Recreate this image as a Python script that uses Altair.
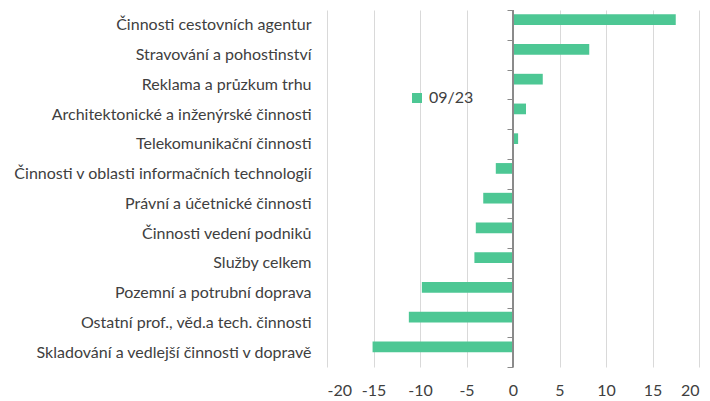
import json
import altair as alt
import pandas as pd

categories = [
    "Činnosti cestovních agentur",
    "Stravování a pohostinství",
    "Reklama a průzkum trhu",
    "Architektonické a inženýrské činnosti",
    "Telekomunikační činnosti",
    "Činnosti v oblasti informačních technologií",
    "Právní a účetnické činnosti",
    "Činnosti vedení podniků",
    "Služby celkem",
    "Pozemní a potrubní doprava",
    "Ostatní prof., věd.a tech. činnosti ",
    "Skladování a vedlejší činnosti v dopravě",
]
values = [17.5, 8.2, 3.2, 1.4, 0.55, -1.85, -3.2, -4.0, -4.15, -9.8, -11.2, -15.1]
series_name = "09/23"
x_ticks = [-20, -15, -10, -5, 0, 5, 10, 15, 20]

GREEN = "#4DC794"
TEXT = "#404040"
GRAY = "#8a8a8a"
FONT = "Lato"
W, H = 372, 357

n = len(categories)
df = pd.DataFrame({
    "cat": categories,
    "value": values,
    "idx": list(range(n)),
    "series": [series_name] * n,
})
# bar occupies the upper half of each category slot (second, empty series in original)
df["y0"] = df["idx"] + 0.145
df["y1"] = df["idx"] + 0.505

ticks_df = pd.DataFrame({"pos": list(range(n + 1))})

xscale = alt.Scale(domain=[-20, 20], nice=False, padding=0)

label_expr = json.dumps(categories, ensure_ascii=False) + "[floor(datum.value)]"

bars = alt.Chart(df).mark_bar(orient="horizontal").encode(
    x=alt.X("value:Q", scale=xscale,
            axis=alt.Axis(values=x_ticks, grid=True, gridColor="#d9d9d9", gridWidth=1,
                          domain=False, ticks=False, labelPadding=15, title=None,
                          labelExpr="'' + datum.value",
                          labelFontSize=16, labelColor=TEXT, labelFont=FONT)),
    x2=alt.datum(0),
    y=alt.Y("y0:Q",
            scale=alt.Scale(domain=[0, n], reverse=True, nice=False, zero=False, padding=0),
            axis=alt.Axis(values=[i + 0.5 for i in range(n)], labelExpr=label_expr,
                          ticks=False, domain=False, grid=False, title=None,
                          labelOverlap=False, labelBound=False, labelFlush=False,
                          labelPadding=16, labelFontSize=16, labelColor=TEXT,
                          labelFont=FONT, labelLimit=400)),
    y2="y1:Q",
    color=alt.Color("series:N", scale=alt.Scale(domain=[series_name], range=[GREEN]),
                    legend=alt.Legend(title=None, orient="none", legendX=82, legendY=80,
                                      symbolType="square", symbolSize=100,
                                      symbolStrokeWidth=0, padding=0, labelOffset=4,
                                      labelFontSize=16, labelColor=TEXT, labelFont=FONT)),
)

zero_rule = alt.Chart(df).mark_rule(color=GRAY, strokeWidth=1).encode(
    x=alt.datum(0)
)

tick_axis = alt.Chart(ticks_df).mark_point(opacity=0).encode(
    x=alt.datum(0),
    y=alt.Y("pos:Q",
            scale=alt.Scale(domain=[0, n], reverse=True, nice=False, zero=False, padding=0),
            axis=alt.Axis(orient="left", offset=-(W / 2), values=list(range(n + 1)),
                          labels=False, ticks=True, tickSize=6, tickColor=GRAY,
                          tickWidth=1, domain=False, grid=False, title=None)),
)

chart = alt.layer(bars, zero_rule, tick_axis).resolve_scale(
    y="independent"
).resolve_axis(
    y="independent"
).properties(
    width=W,
    height=H,
    autosize=alt.AutoSizeParams(type="none"),
    padding={"left": 319, "top": 2, "right": 3, "bottom": 33},
).configure(font=FONT).configure_view(stroke=None)

chart.save("out.html", embed_options={"renderer": "svg", "actions": False})
